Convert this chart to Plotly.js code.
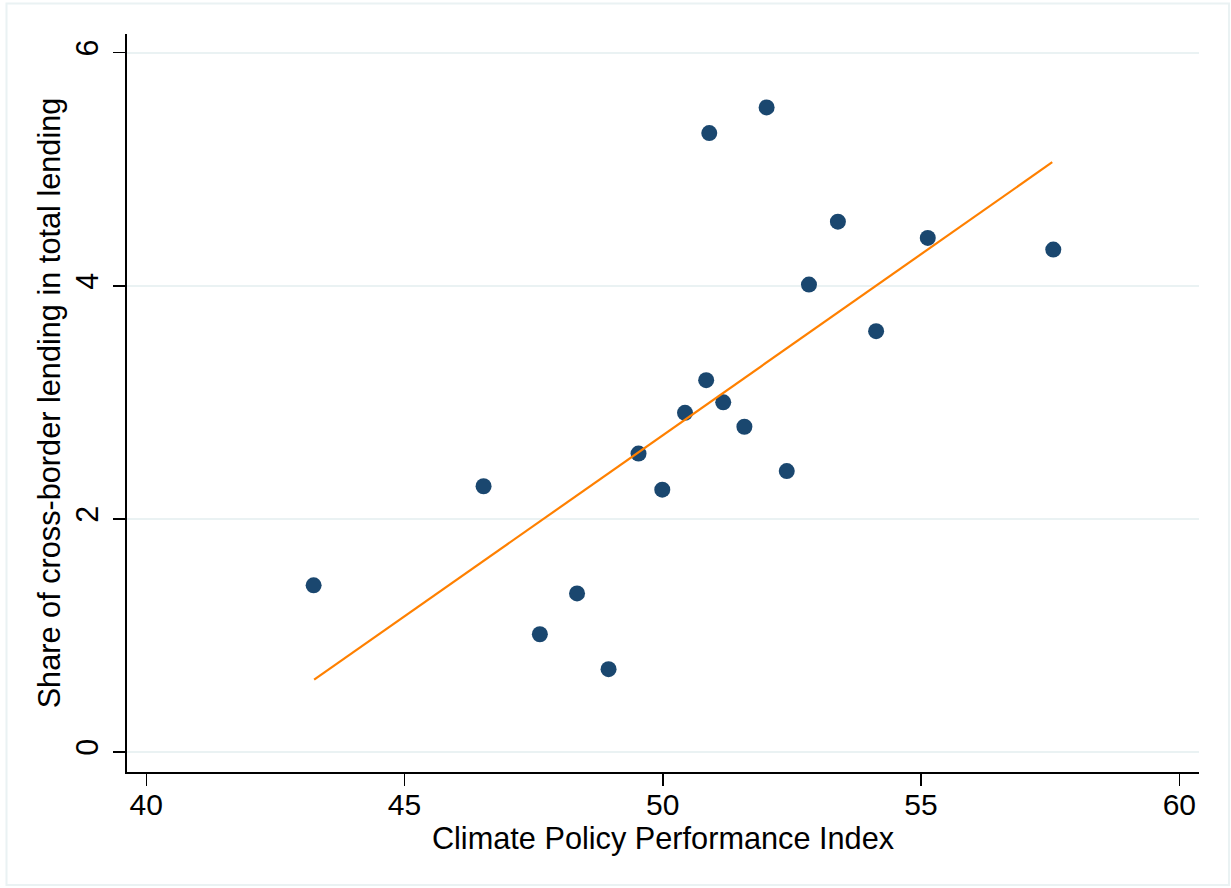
<!DOCTYPE html>
<html>
<head>
<meta charset="utf-8">
<script src="https://cdn.plot.ly/plotly-3.0.1.min.js"></script>
<style>
  html, body { margin: 0; padding: 0; background: #ffffff; }
  #chart { width: 1231px; height: 888px; }
</style>
</head>
<body>
<div id="chart"></div>
<script>
// Climate Policy Performance Index (x) and share of cross-border lending (y)
const cppi = [43.24, 46.53, 47.62, 48.34, 48.95, 49.53, 49.99, 50.43, 50.84, 50.90,
              51.17, 51.58, 52.01, 52.40, 52.83, 53.39, 54.13, 55.13, 57.56];
const share = [1.43, 2.28, 1.01, 1.36, 0.71, 2.56, 2.25, 2.91, 3.19, 5.31,
               3.00, 2.79, 5.53, 2.41, 4.01, 4.55, 3.61, 4.41, 4.31];

// Fitted line end points
const fitX = [43.25, 57.54];
const fitY = [0.62, 5.06];

const xTicks = [40, 45, 50, 55, 60];
const yTicks = [0, 2, 4, 6];

const xTitle = "Climate Policy Performance Index";
const yTitle = "Share of cross-border lending in total lending";

const font = "Liberation Sans, Arial, sans-serif";

const traces = [
  {
    x: cppi, y: share, type: "scatter", mode: "markers",
    marker: { color: "#1a476f", size: 16, line: { width: 0 } },
    hoverinfo: "x+y", showlegend: false
  },
  {
    x: fitX, y: fitY, type: "scatter", mode: "lines",
    line: { color: "#ff8000", width: 2.2 },
    hoverinfo: "skip", showlegend: false
  }
];

const layout = {
  width: 1231, height: 888,
  margin: { l: 127, r: 32, t: 34, b: 116 },
  paper_bgcolor: "#ffffff",
  plot_bgcolor: "#ffffff",
  font: { family: font, size: 30, color: "#000000" },
  showlegend: false,
  xaxis: {
    range: [39.627, 60.381],
    tickvals: xTicks,
    ticktext: xTicks.map(String),
    ticks: "outside", ticklen: 12, tickwidth: 1.5, tickcolor: "#000000",
    ticklabelstandoff: -7,
    showline: true, linecolor: "#000000", linewidth: 2,
    showgrid: false, zeroline: false,
    tickfont: { family: font, size: 30, color: "#000000" },
    title: { text: xTitle, font: { family: font, size: 30.7, color: "#000000" }, standoff: 0 }
  },
  yaxis: {
    range: [-0.172, 6.16],
    tickvals: yTicks,
    ticktext: yTicks.map(String),
    tickangle: -90,
    ticks: "outside", ticklen: 12, tickwidth: 1.5, tickcolor: "#000000",
    ticklabelstandoff: 3,
    showline: true, linecolor: "#000000", linewidth: 2,
    showgrid: true, gridcolor: "#eaf2f3", gridwidth: 2,
    zeroline: false,
    tickfont: { family: font, size: 30.5, color: "#000000" },
    title: { text: yTitle, font: { family: font, size: 30.7, color: "#000000" }, standoff: 0 }
  },
  shapes: [
    {
      type: "rect", xref: "paper", yref: "paper",
      x0: (6.5 - 127) / 1072, x1: (1229 - 127) / 1072,
      y0: (772 - 885) / 738, y1: (772 - 3.5) / 738,
      line: { color: "#eaf2f3", width: 2 }, fillcolor: "rgba(0,0,0,0)",
      layer: "below"
    }
  ]
};

Plotly.newPlot("chart", traces, layout, { displayModeBar: false, staticPlot: true });
</script>
</body>
</html>
